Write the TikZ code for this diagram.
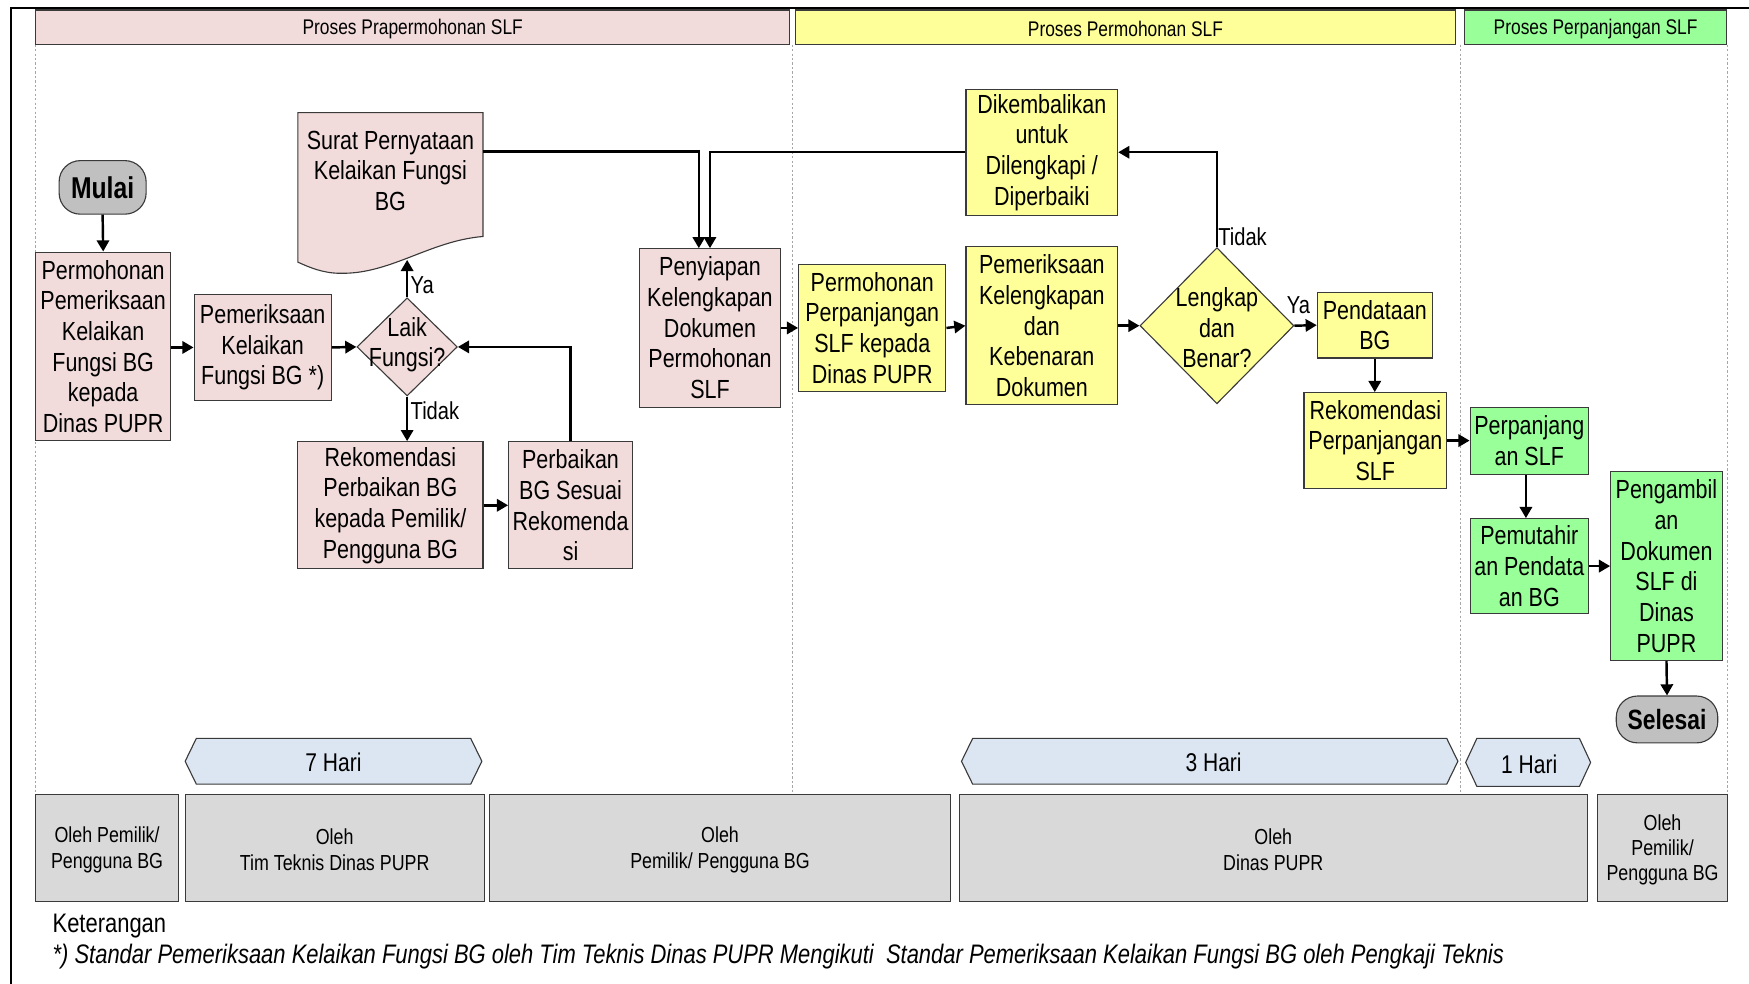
\documentclass[tikz,border=0pt]{standalone}
\usepackage{fontspec}
\setmainfont{Liberation Sans}[FakeStretch=0.82]
\usetikzlibrary{arrows.meta,shapes.geometric,calc}
\definecolor{pinkf}{HTML}{F2DCDB}
\definecolor{yelf}{HTML}{FFFF99}
\definecolor{grnf}{HTML}{99FF99}
\definecolor{grayf}{HTML}{D9D9D9}
\definecolor{termf}{HTML}{C0C0C0}
\definecolor{bluef}{HTML}{DCE6F2}
\definecolor{edgec}{HTML}{3A3A3A}
\begin{document}
\begin{tikzpicture}[x=1pt,y=-1pt,
  box/.style={draw=edgec, line width=1pt, inner sep=0pt, align=center, font=\fontsize{23.5}{27.5}\selectfont},
  pinkbox/.style={box, fill=pinkf},
  yelbox/.style={box, fill=yelf},
  grnbox/.style={box, fill=grnf},
  term/.style={box, fill=termf, rounded corners=19pt, font=\fontsize{27}{30}\selectfont\bfseries},
  hexs/.style={draw=edgec, line width=1pt, fill=bluef},
  hext/.style={inner sep=0pt, font=\fontsize{23}{27}\selectfont},
  lbl/.style={inner sep=1pt, font=\fontsize{22}{26}\selectfont},
  lane/.style={draw=gray!70, line width=0.8pt, dash pattern=on 2pt off 2pt},
  conn/.style={line width=2.2pt, -{Triangle[length=10pt,width=11pt]}},
  whot/.style={align=center, inner sep=0pt, font=\fontsize{19.5}{23.5}\selectfont},
  whob/.style={draw=edgec, line width=1pt, fill=grayf},
  hdrt/.style={inner sep=0pt, font=\fontsize{19}{22}\selectfont},
]
\path[use as bounding box] (0,0) rectangle (1568,882);
% frame
\draw[line width=2pt] (10,882) -- (10,7) -- (1568,7);
% lane lines
\foreach \xx in {32,710,1309,1549} { \draw[lane] (\xx,40) -- (\xx,712); }
% headers
\draw[whob, fill=pinkf] (32,9) rectangle (708,40);
\node[hdrt] (h1) at (370,26) {Proses Prapermohonan SLF};
\draw[whob, fill=yelf] (713,9) rectangle (1305,40);
\node[hdrt] (h2) at (1009,26) {Proses Permohonan SLF};
\draw[whob, fill=grnf] (1313,9) rectangle (1548,40);
\node[hdrt] (h3) at (1430.5,26) {Proses Perpanjangan SLF};
% terminals
\node[term, minimum width=78pt, minimum height=48pt] (mulai) at (92,168) {Mulai};
\node[term, minimum width=91pt, minimum height=42pt, font=\fontsize{25}{28}\selectfont\bfseries] (selesai) at (1494.5,645) {Selesai};
% process boxes
\node[pinkbox, minimum width=121pt, minimum height=169pt] (perm) at (92.5,310.5) {Permohonan\\Pemeriksaan\\Kelaikan\\Fungsi BG\\kepada\\Dinas PUPR};
\node[pinkbox, minimum width=123pt, minimum height=95pt] (pem) at (235.5,311.5) {Pemeriksaan\\Kelaikan\\Fungsi BG *)};
\node[draw=edgec, line width=1pt, fill=pinkf, diamond, inner sep=0pt, minimum width=90pt, minimum height=88pt] (laik) at (365,311) {};
\node[box, draw=none] (laikt) at (365,309) {Laik\\Fungsi?};
% document shape
\draw[fill=pinkf, draw=edgec, line width=1pt] (267,101) -- (433,101) -- (433,212) .. controls (385,216) and (350,246) .. (305,245) .. controls (290,245) and (278,240) .. (267,235) -- cycle;
\node[box, draw=none] (surat) at (350,153) {Surat Pernyataan\\Kelaikan Fungsi\\BG};
\coordinate (suratB) at (365,233);
\coordinate (suratR) at (433,136);
\node[pinkbox, minimum width=166pt, minimum height=114pt] (rekp) at (350,453) {Rekomendasi\\Perbaikan BG\\kepada Pemilik/\\Pengguna BG};
\node[pinkbox, minimum width=111pt, minimum height=114pt] (perb) at (511.5,453) {Perbaikan\\BG Sesuai\\Rekomenda\\si};
\node[pinkbox, minimum width=127pt, minimum height=142pt] (peny) at (636.5,294) {Penyiapan\\Kelengkapan\\Dokumen\\Permohonan\\SLF};
\node[yelbox, minimum width=132pt, minimum height=114pt] (permp) at (782,294) {Permohonan\\Perpanjangan\\SLF kepada\\Dinas PUPR};
\node[yelbox, minimum width=136pt, minimum height=113pt] (dik) at (934,136.5) {Dikembalikan\\untuk\\Dilengkapi /\\Diperbaiki};
\node[yelbox, minimum width=136pt, minimum height=142pt] (pemk) at (934,292) {Pemeriksaan\\Kelengkapan\\dan\\Kebenaran\\Dokumen};
\node[draw=edgec, line width=1pt, fill=yelf, diamond, inner sep=0pt, minimum width=138pt, minimum height=140pt] (leng) at (1091,292) {};
\node[box, draw=none] (lengt) at (1091,294) {Lengkap\\dan\\Benar?};
\node[yelbox, minimum width=103pt, minimum height=59pt] (pend) at (1232.5,291.5) {Pendataan\\BG};
\node[yelbox, minimum width=128pt, minimum height=86pt] (rekper) at (1233,395) {Rekomendasi\\Perpanjangan\\SLF};
\node[grnbox, minimum width=106pt, minimum height=60pt] (perpslf) at (1371,395) {Perpanjang\\an SLF};
\node[grnbox, minimum width=106pt, minimum height=85pt] (pemut) at (1371,507.5) {Pemutahir\\an Pendata\\an BG};
\node[grnbox, minimum width=100pt, minimum height=169pt] (peng) at (1494,507.5) {Pengambil\\an\\Dokumen\\SLF di\\Dinas\\PUPR};
% labels
\node[lbl, anchor=west] (ya1) at (367,256) {Ya};
\node[lbl, anchor=west] (td1) at (367,368) {Tidak};
\node[lbl, anchor=west] (td2) at (1091,212) {Tidak};
\node[lbl] (ya2) at (1164,274) {Ya};
% connectors
\draw[conn] (mulai.south) -- (perm.north);
\draw[conn] (pem.west -| perm.east) -- (pem.west);
\draw[conn] (pem.east) -- (laik.west);
\draw[conn] (laik.north) -- (suratB);
\draw[conn] (laik.south) -- (laik.south |- rekp.north);
\draw[conn] (rekp.east) -- (rekp.east -| perb.west);
\draw[conn] (perb.north) |- (laik.east);
\draw[conn] (suratR) -| ([xshift=-10pt]peny.north);
\draw[conn] (dik.west) -| (peny.north);
\draw[conn] (peny.east) -- (permp.west);
\draw[conn] (permp.east) -- (pemk.west);
\draw[conn] (pemk.east) -- (leng.west);
\draw[conn] (leng.east) -- (pend.west);
\draw[conn] (leng.north) |- (dik.east);
\draw[conn] (pend.south) -- (pend.south |- rekper.north);
\draw[conn] (rekper.east) -- (perpslf.west);
\draw[conn] ([xshift=-3pt]perpslf.south) -- ([xshift=-3pt]pemut.north);
\draw[conn] (pemut.east) -- (pemut.east -| peng.west);
\draw[conn] (peng.south) -- (selesai.north);
% durations
\draw[hexs] (166,682.5) -- (176,662) -- (422,662) -- (432,682.5) -- (422,703) -- (176,703) -- cycle;
\node[hext] (d7) at (299,683.5) {7 Hari};
\draw[hexs] (862,682.5) -- (872,662) -- (1297,662) -- (1307,682.5) -- (1297,703) -- (872,703) -- cycle;
\node[hext] (d3) at (1088,683.5) {3 Hari};
\draw[hexs] (1314,683.5) -- (1324,662) -- (1416,662) -- (1426,683.5) -- (1416,705) -- (1324,705) -- cycle;
\node[hext] (d1) at (1371,685) {1 Hari};
% who boxes
\draw[whob] (32,712) rectangle (160,808);
\node[whot] (w1) at (96,762) {Oleh Pemilik/\\Pengguna BG};
\draw[whob] (166,712) rectangle (434,808);
\node[whot] (w2) at (300,762) {Oleh\\Tim Teknis Dinas PUPR};
\draw[whob] (439,712) rectangle (852,808);
\node[whot] (w3) at (645.5,762) {Oleh\\Pemilik/ Pengguna BG};
\draw[whob] (860,712) rectangle (1423,808);
\node[whot] (w4) at (1141.5,762) {Oleh\\Dinas PUPR};
\draw[whob] (1432,712) rectangle (1549,808);
\node[whot, font=\fontsize{19.5}{22.5}\selectfont] (w5) at (1490.5,762) {Oleh\\Pemilik/\\Pengguna BG};
% notes
\node[anchor=west, inner sep=0pt, font=\fontsize{24}{27}\selectfont] (ket) at (47,830) {Keterangan};
\node[anchor=west, inner sep=0pt, font=\fontsize{24}{27}\selectfont\itshape] (note) at (47,858) {*) Standar Pemeriksaan Kelaikan Fungsi BG oleh Tim Teknis Dinas PUPR Mengikuti\ \ Standar Pemeriksaan Kelaikan Fungsi BG oleh Pengkaji Teknis};
\end{tikzpicture}
\end{document}
